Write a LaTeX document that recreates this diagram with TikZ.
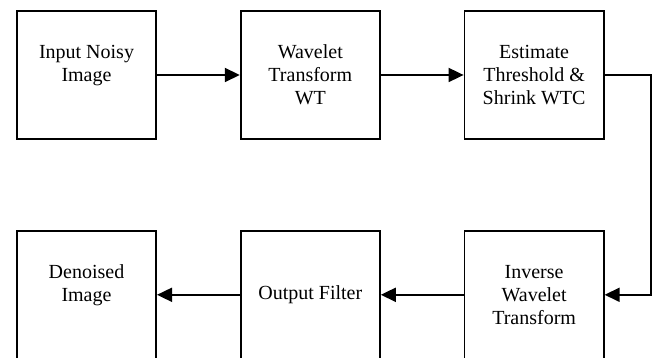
\documentclass[tikz,border=0pt]{standalone}
\usepackage{fontspec}
\setmainfont{Liberation Serif}
\usetikzlibrary{positioning,arrows.meta}

\begin{document}
\begin{tikzpicture}[x=1pt,y=1pt,
  block/.style={draw,line width=1.8pt,minimum width=139.2pt,minimum height=128.2pt,
    align=center,font=\fontsize{20}{23}\selectfont},
  flow/.style={line width=1.8pt,-{Triangle[length=15pt,width=14pt]}}
]
\useasboundingbox (0,0) rectangle (652,358);

% top row
\node[block] (input) at (86.5,283) {Input Noisy\\Image\\\mbox{}};
\node[block,right=82.8pt of input] (wt) {Wavelet\\Transform\\WT};
\node[block,right=82.8pt of wt] (shrink) {Estimate\\Threshold \&\\Shrink WTC};

% bottom row
\node[block,below=89.8pt of shrink] (iwt) {Inverse\\Wavelet\\Transform};
\node[block,below=89.8pt of wt] (filter) {Output Filter};
\node[block,below=89.8pt of input] (denoised) {Denoised\\Image\\\mbox{}};

\draw[flow] (input) -- (wt);
\draw[flow] (wt) -- (shrink);
\draw[flow] (shrink.east) -- ++(46,0) |- (iwt.east);
\draw[flow] (iwt) -- (filter);
\draw[flow] (filter) -- (denoised);
\end{tikzpicture}
\end{document}
